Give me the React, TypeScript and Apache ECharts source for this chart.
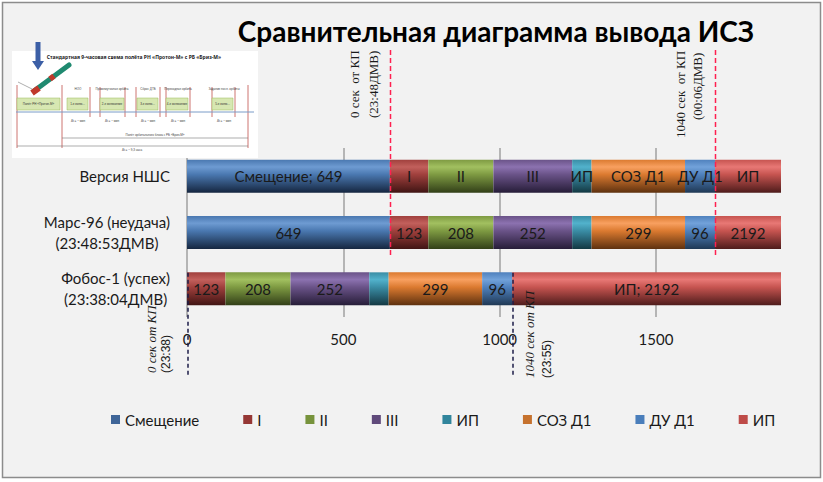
import React, { useEffect, useRef } from 'react';
import * as echarts from 'echarts';

// ---------- data ----------
const categories = ['Версия НШС', 'Марс-96 (неудача)\n(23:48:53ДМВ)', 'Фобос-1 (успех)\n(23:38:04ДМВ)'];
const seriesKeys = ['offset', 'st1', 'st2', 'st3', 'ip1', 'soz', 'du', 'ip2'];
const seriesNames = ['Смещение', 'I', 'II', 'III', 'ИП', 'СОЗ Д1', 'ДУ Д1', 'ИП'];
const offsetValues = [649, 649, 0];
const stage1Values = [123, 123, 123];
const stage2Values = [208, 208, 208];
const stage3Values = [252, 252, 252];
const ip1Values = [62, 62, 62];
const sozValues = [299, 299, 299];
const duValues = [96, 96, 96];
const ip2Values = [2192, 2192, 2192];
const xTicks = [0, 500, 1000, 1500];
const xMax = 1900;
const kpSpan = [0, 1040];
const topMarkerTexts = [['0 сек  от КП', '(23:48ДМВ)'], ['1040 сек  от КП', '(00:06ДМВ)']];
const bottomMarkerTexts = [['0 сек от КП', '(23:38)'], ['1040 сек от КП', '(23:55)']];
const titleText = 'Сравнительная диаграмма вывода ИСЗ';
const insetTitle = 'Стандартная 9-часовая схема полёта РН «Протон-М» с РБ «Бриз-М»';
const insetBoxLabels = ['Полёт РН «Протон-М»', '1-е включение', '2-е включение', '3-е включение', '4-е включение', '5-е включение'];
const insetTopLabels = ['НОО', 'Промежуточная орбита', 'Сброс ДТБ', 'Переходная орбита', 'Задание посл. орбиты'];

const valueArrays = [offsetValues, stage1Values, stage2Values, stage3Values, ip1Values, sozValues, duValues, ip2Values];

// ---------- styles ----------
const FONT = 'Lato, "Noto Sans", sans-serif';
const barColors: [string, string, string][] = [
  ['#4A78B0', '#6E9BD2', '#152640'],
  ['#A0403D', '#C2605C', '#401514'],
  ['#7E9A42', '#A2C060', '#323F18'],
  ['#6A5388', '#8C72B0', '#261D38'],
  ['#3A8DA5', '#52B2CC', '#133842'],
  ['#DB7A30', '#F8A060', '#5E310F'],
  ['#4F81BD', '#72A2DA', '#1F3854'],
  ['#C65450', '#E87875', '#4E1C1B'],
];
const legendColors = ['#3F6598', '#953735', '#77933C', '#604A7B', '#31859C', '#C6722E', '#4A7EBB', '#BE4B48'];

const mix = (a: string, b: string, t: number) => {
  const pa = [1, 3, 5].map((i) => parseInt(a.slice(i, i + 2), 16));
  const pb = [1, 3, 5].map((i) => parseInt(b.slice(i, i + 2), 16));
  return '#' + pa.map((v, i) => Math.round(v + (pb[i] - v) * t).toString(16).padStart(2, '0')).join('');
};

const grad = (c: [string, string, string]) =>
  new echarts.graphic.LinearGradient(0, 0, 0, 1, [
    { offset: 0, color: c[0] },
    { offset: 0.22, color: c[1] },
    { offset: 0.45, color: c[0] },
    { offset: 0.75, color: mix(c[0], c[2], 0.55) },
    { offset: 1, color: c[2] },
  ]);

const labelFor = (si: number) => (p: any) => {
  const v = p.value;
  const n = seriesNames[si];
  const row = p.dataIndex;
  if (!v) return '';
  if (row === 0) return si === 0 ? `${n}; ${v}` : n;
  if (si === 4) return '';
  if (row === 2 && si === 7) return `${n}; ${v}`;
  return String(v);
};

function insetGraphic() {
  const ox = 12;
  const oy = 51;
  const children: any[] = [];
  children.push({ type: 'rect', shape: { x: 0, y: 0, width: 246, height: 107 }, style: { fill: '#ffffff' } });
  children.push({
    type: 'text',
    style: { text: insetTitle, x: 122, y: 6, align: 'center', verticalAlign: 'middle', font: 'bold 5px "Noto Sans", sans-serif', fill: '#222' },
  });
  const tall = [5, 50, 236];
  tall.forEach((x) => children.push({ type: 'line', shape: { x1: x, y1: 34, x2: x, y2: 97 }, style: { stroke: '#c0504d', lineWidth: 0.8 } }));
  const mid = [78, 88, 113, 124, 148, 154, 178, 200, 223];
  mid.forEach((x) => children.push({ type: 'line', shape: { x1: x, y1: 36, x2: x, y2: 66 }, style: { stroke: '#c0504d', lineWidth: 0.8 } }));
  const boxes = [[5, 43], [55, 21], [88, 24], [125, 21], [154, 22], [200, 21]];
  boxes.forEach(([x, w], i) => {
    children.push({ type: 'rect', shape: { x, y: 47, width: w, height: 12 }, style: { fill: '#d7e7b2', stroke: '#9bbb59', lineWidth: 0.5 } });
    children.push({
      type: 'text',
      style: { text: insetBoxLabels[i], x: x + w / 2, y: 53, align: 'center', verticalAlign: 'middle', font: '3px sans-serif', fill: '#333', width: w, overflow: 'truncate' },
    });
  });
  children.push({ type: 'line', shape: { x1: 4, y1: 61, x2: 242, y2: 61 }, style: { stroke: '#7a9cc8', lineWidth: 1 } });
  const topX = [66, 100, 136, 166, 212];
  topX.forEach((x, i) =>
    children.push({
      type: 'text',
      style: { text: insetTopLabels[i], x, y: 38, align: 'center', verticalAlign: 'middle', font: '3px sans-serif', fill: '#444' },
    })
  );
  [66, 100, 136, 166, 212].forEach((x) =>
    children.push({
      type: 'text',
      style: { text: 'Δt = ~ мин', x, y: 70, align: 'center', verticalAlign: 'middle', font: '3px sans-serif', fill: '#444' },
    })
  );
  children.push({ type: 'line', shape: { x1: 50, y1: 87, x2: 236, y2: 87 }, style: { stroke: '#777', lineWidth: 0.6 } });
  children.push({ type: 'line', shape: { x1: 5, y1: 95, x2: 236, y2: 95 }, style: { stroke: '#777', lineWidth: 0.6 } });
  children.push({
    type: 'text',
    style: { text: 'Полёт орбитального блока с РБ «Бриз-М»', x: 143, y: 84, align: 'center', verticalAlign: 'middle', font: '3px sans-serif', fill: '#444' },
  });
  children.push({
    type: 'text',
    style: { text: 'Δt = ~ 9,3 часа', x: 120, y: 99, align: 'center', verticalAlign: 'middle', font: '3px sans-serif', fill: '#444' },
  });
  children.push({ type: 'line', shape: { x1: 22, y1: 40, x2: 57, y2: 14 }, style: { stroke: '#1f8a70', lineWidth: 5, lineCap: 'round' } });
  children.push({ type: 'line', shape: { x1: 20, y1: 42, x2: 27, y2: 37 }, style: { stroke: '#c0392b', lineWidth: 6 } });
  children.push({ type: 'line', shape: { x1: 38, y1: 28, x2: 42, y2: 25 }, style: { stroke: '#c0392b', lineWidth: 5.5 } });
  children.push({ type: 'line', shape: { x1: 6, y1: 31, x2: 20, y2: 38 }, style: { stroke: '#999', lineWidth: 0.8 } });
  return { type: 'group', x: ox, y: oy, z: 50, children };
}

export default function App() {
  const ref = useRef<HTMLDivElement>(null);
  useEffect(() => {
    document.body.style.margin = '0';
    const chart = echarts.init(ref.current!, null, { renderer: 'svg' });
    const option: any = {
      animation: false,
      backgroundColor: '#ffffff',
      textStyle: { fontFamily: FONT },
      grid: { left: 187, right: 42, top: 148, bottom: 165 },
      xAxis: {
        type: 'value',
        min: 0,
        max: xMax,
        interval: 500,
        axisLine: { show: false },
        axisTick: { show: false },
        axisLabel: {
          fontSize: 15,
          color: '#1a1a1a',
          fontFamily: FONT,
          margin: 14,
          showMaxLabel: false,
          formatter: (v: number) => (xTicks.includes(v) ? String(v) : ''),
        },
        splitLine: { show: true, showMaxLine: false, lineStyle: { color: '#a0a0a0', width: 1.5 } },
      },
      yAxis: {
        type: 'category',
        inverse: true,
        data: categories,
        axisLine: { show: false },
        axisTick: { show: false },
        axisLabel: {
          margin: 17,
          fontSize: 15,
          color: '#1a1a1a',
          fontFamily: FONT,
          lineHeight: 21,
          formatter: (v: string) => v.split('\n').map((l) => `{c|${l}}`).join('\n'),
          rich: { c: { align: 'center', fontSize: 15, lineHeight: 21, color: '#1a1a1a', fontFamily: FONT } },
        },
      },
      legend: {
        left: 111,
        top: 412,
        padding: 0,
        itemWidth: 9,
        itemHeight: 9,
        itemGap: 44,
        icon: 'rect',
        textStyle: { fontSize: 15, color: '#1a1a1a', fontFamily: FONT },
        formatter: (k: string) => seriesNames[seriesKeys.indexOf(k)],
        data: seriesKeys.map((k, i) => ({ name: k, itemStyle: { color: legendColors[i] } })),
      },
      series: seriesKeys.map((k, i) => ({
        name: k,
        type: 'bar',
        stack: 'total',
        barWidth: 33,
        data: valueArrays[i],
        itemStyle: { color: grad(barColors[i]) },
        label: {
          show: true,
          position: 'inside',
          formatter: labelFor(i),
          fontSize: 15,
          color: '#1a1a1a',
          fontFamily: FONT,
        },
        emphasis: { disabled: true },
      })),
    };
    chart.setOption(option);

    const px = (v: number) => chart.convertToPixel({ xAxisIndex: 0 }, v) as number;
    const py = (i: number) => chart.convertToPixel({ yAxisIndex: 0 }, i) as number;

    const g: any[] = [];
    g.push({ type: 'rect', z: -100, shape: { x: 2.5, y: 2.5, width: 818, height: 475 }, style: { fill: '#f2f2f2', stroke: '#8c8c8c', lineWidth: 1.5 } });
    g.push({
      type: 'text',
      z: 10,
      style: { text: titleText, x: 496, y: 31, align: 'center', verticalAlign: 'middle', font: 'bold 28px Lato, "Noto Sans", sans-serif', fill: '#000' },
    });
    g.push(insetGraphic());
    g.push({ type: 'rect', z: 60, shape: { x: 35.5, y: 42, width: 5, height: 20 }, style: { fill: '#3c5fa6' } });
    g.push({ type: 'polygon', z: 60, shape: { points: [[32, 61], [44, 61], [38, 70]] }, style: { fill: '#3c5fa6' } });

    const topTextOffsets = [
      [[-36, 118], [-17, 118]],
      [[-35, 138], [-18, 120]],
    ];
    kpSpan.forEach((s, j) => {
      const x = Math.round(px(offsetValues[1] + s)) + 0.5;
      g.push({ type: 'line', z: 100, shape: { x1: x, y1: 50, x2: x, y2: py(1) + 25 }, style: { stroke: '#ff2050', lineWidth: 1.5, lineDash: [5, 3] } });
      topMarkerTexts[j].forEach((t, k) => {
        const [dx, yy] = topTextOffsets[j][k];
        g.push({
          type: 'text',
          z: 100,
          x: x + dx,
          y: yy,
          rotation: Math.PI / 2,
          style: { text: t, x: 0, y: 0, align: 'left', verticalAlign: 'middle', font: '13px "Liberation Serif", "DejaVu Serif", serif', fill: '#1a1a1a' },
        });
      });
    });
    const botTextOffsets = [
      [[-37, 373], [-22, 373]],
      [[16, 378], [34, 378]],
    ];
    kpSpan.forEach((s, j) => {
      const x = Math.round(px(offsetValues[2] + s)) + 1;
      g.push({ type: 'line', z: 100, shape: { x1: x, y1: py(2) - 16, x2: x, y2: py(2) + 86 }, style: { stroke: '#1c1c48', lineWidth: 1.5, lineDash: [4, 3] } });
      bottomMarkerTexts[j].forEach((t, k) => {
        const [dx, yy] = botTextOffsets[j][k];
        g.push({
          type: 'text',
          z: 100,
          x: x + dx,
          y: yy,
          rotation: Math.PI / 2,
          style: {
            text: t,
            x: 0,
            y: 0,
            align: 'left',
            verticalAlign: 'middle',
            font: k === 0 ? 'italic 13px "Liberation Serif", "DejaVu Serif", serif' : '12px "Liberation Sans", sans-serif',
            fill: '#1a1a1a',
          },
        });
      });
    });
    chart.setOption({ graphic: { elements: g } });
    return () => chart.dispose();
  }, []);
  return <div ref={ref} style={{ position: 'absolute', left: 0, top: 0, width: 823, height: 482 }} />;
}
